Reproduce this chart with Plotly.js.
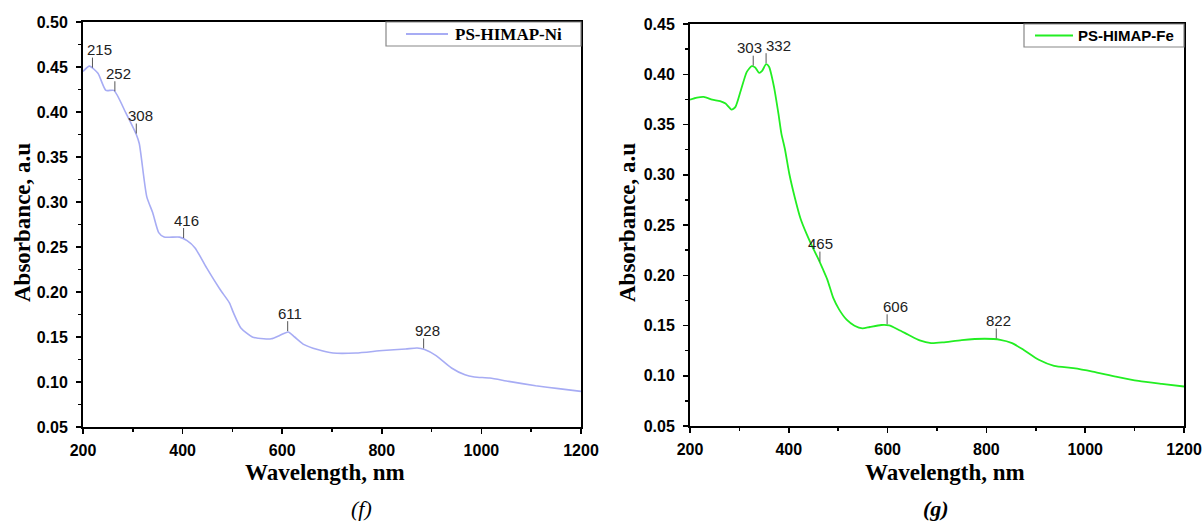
<!DOCTYPE html>
<html>
<head>
<meta charset="utf-8">
<script src="https://cdn.plot.ly/plotly-3.0.1.min.js"></script>
<style>html,body{margin:0;padding:0;background:#fff;}#chart{width:1203px;height:523px;}</style>
</head>
<body>
<div id="chart"></div>
<script>
// ---- data ----
const niWavelength = [200,213,230,246,262,286,307,313,328,340,352,363,394,409,425,448,475,494,502,517,540,563,578,594,612,625,644,671,702,748,802,848,871,886,909,940,967,986,1017,1055,1109,1155,1200];
const niAbsorbance = [0.445,0.451,0.443,0.424,0.424,0.399,0.375,0.365,0.306,0.288,0.266,0.261,0.261,0.257,0.249,0.227,0.203,0.188,0.177,0.160,0.150,0.148,0.148,0.1515,0.1556,0.150,0.1415,0.136,0.1322,0.1322,0.135,0.1367,0.1378,0.136,0.1293,0.1156,0.108,0.1056,0.1044,0.1007,0.0959,0.0926,0.0896];
const niPeakLabels = ['215','252','308','416','611','928'];
const niPeakX = [219,264,307,402,611,884];

const feWavelength = [200,214,228,245,261,272,284,292,303,315,325,332,340,346,354,360,370,379,385,392,401,412,424,436,447,459,469,478,490,502,517,533,549,564,587,603,622,642,665,688,712,750,797,828,852,875,906,937,976,1015,1062,1108,1155,1200];
const feAbsorbance = [0.3748,0.3768,0.3775,0.3748,0.3732,0.3708,0.3648,0.3675,0.3841,0.4024,0.4081,0.4068,0.4014,0.4034,0.410,0.4074,0.3875,0.3608,0.3409,0.3259,0.301,0.2777,0.256,0.2411,0.229,0.217,0.206,0.1957,0.1774,0.1658,0.1558,0.1498,0.1471,0.1485,0.1505,0.1501,0.1458,0.1408,0.1352,0.1325,0.1332,0.1355,0.1368,0.1358,0.1325,0.1259,0.1159,0.1099,0.1076,0.1042,0.0992,0.0949,0.0919,0.0893];
const fePeakLabels = ['303','332','465','606','822'];
const fePeakX = [328,354,463,599,820];

const xTickVals = [200,400,600,800,1000,1200];

// ---- style (not data) ----
const niColor = '#a7acf4';
const feColor = '#22ee22';
const niLabelShift = [7,4,4,3,2,4];
const feLabelShift = [-4,12,1,8,2];

function interp(xs, ys, x) {
  for (let i = 0; i < xs.length - 1; i++) {
    if (x >= xs[i] && x <= xs[i+1]) {
      const t = (x - xs[i]) / (xs[i+1] - xs[i]);
      return ys[i] + t * (ys[i+1] - ys[i]);
    }
  }
  return ys[ys.length-1];
}

const W = 1203, H = 523;
const L = {x0:83, x1:581, y0:22, y1:427};
const R = {x0:690, x1:1184, y0:24, y1:426};

const tickFont = {family:'Liberation Sans, Arial, sans-serif', size:16, color:'#000', weight:'bold'};

function xAxis(box, anchor) {
  return {
    domain:[box.x0/W, box.x1/W], anchor:anchor, range:[200,1200],
    tickvals:xTickVals, ticks:'outside', ticklen:5, tickwidth:1.5, tickcolor:'#000',
    minor:{ticks:'outside', ticklen:3, tickwidth:1.5, tickcolor:'#000', dtick:100, tick0:200, showgrid:false},
    showline:true, linewidth:2, linecolor:'#000', mirror:true,
    showgrid:false, zeroline:false, tickfont:tickFont, ticklabelstandoff:3, fixedrange:true
  };
}
function yAxis(box, anchor, top) {
  return {
    domain:[1-box.y1/H, 1-box.y0/H], anchor:anchor, range:[0.05, top],
    dtick:0.05, tick0:0.05, tickformat:'.2f', ticks:'outside', ticklen:5, tickwidth:1.5, tickcolor:'#000',
    minor:{ticks:'outside', ticklen:3, tickwidth:1.5, tickcolor:'#000', dtick:0.025, tick0:0.05, showgrid:false},
    showline:true, linewidth:2, linecolor:'#000', mirror:true,
    showgrid:false, zeroline:false, tickfont:tickFont, ticklabelstandoff:5, fixedrange:true
  };
}

const traces = [
  {x:niWavelength, y:niAbsorbance, xaxis:'x', yaxis:'y', type:'scatter', mode:'lines',
   line:{color:niColor, width:1.6, shape:'spline', smoothing:0.6}, name:'PS-HIMAP-Ni', showlegend:false},
  {x:feWavelength, y:feAbsorbance, xaxis:'x2', yaxis:'y2', type:'scatter', mode:'lines',
   line:{color:feColor, width:1.8, shape:'spline', smoothing:0.6}, name:'PS-HIMAP-Fe', showlegend:false}
];

const shapes = [];
const annotations = [];

function addPeaks(labels, xs, dataX, dataY, shifts, xr, yr) {
  labels.forEach((lab, i) => {
    const yv = interp(dataX, dataY, xs[i]);
    shapes.push({type:'line', xref:xr, yref:yr, ysizemode:'pixel', yanchor:yv,
      x0:xs[i], x1:xs[i], y0:1, y1:11, line:{color:'#555', width:1}});
    annotations.push({xref:xr, yref:yr, x:xs[i], y:yv, text:lab, showarrow:false,
      xshift:shifts[i], yshift:19, font:{family:'Liberation Sans, Arial, sans-serif', size:15, color:'#222'}});
  });
}
addPeaks(niPeakLabels, niPeakX, niWavelength, niAbsorbance, niLabelShift, 'x', 'y');
addPeaks(fePeakLabels, fePeakX, feWavelength, feAbsorbance, feLabelShift, 'x2', 'y2');

// legends (manual boxes)
function legend(box, xr, yr, bx0, by1, lx0, lx1, tx, name, color, font) {
  const dw = box.x1 - box.x0, dh = box.y1 - box.y0;
  const ym = 1 - ((box.y0 + by1)/2 - box.y0) / dh;
  shapes.push({type:'rect', xref:xr+' domain', yref:yr+' domain',
    x0:(bx0-box.x0)/dw, x1:1, y0:1-(by1-box.y0)/dh, y1:1, line:{color:'#888', width:1.2}, fillcolor:'rgba(0,0,0,0)'});
  shapes.push({type:'line', xref:xr+' domain', yref:yr+' domain',
    x0:(lx0-box.x0)/dw, x1:(lx1-box.x0)/dw, y0:ym, y1:ym, line:{color:color, width:1.8}});
  annotations.push({xref:xr+' domain', yref:yr+' domain', x:(tx-box.x0)/dw, y:ym, xanchor:'left', yanchor:'middle',
    text:name, showarrow:false, font:font});
}
legend(L, 'x', 'y', 386, 46, 406, 448, 453, 'PS-HIMAP-Ni', niColor,
  {family:'Liberation Serif, Times New Roman, serif', size:17, color:'#000', weight:'bold'});
legend(R, 'x2', 'y2', 1024, 47, 1035, 1073, 1076, 'PS-HIMAP-Fe', feColor,
  {family:'Liberation Sans, Arial, sans-serif', size:15, color:'#000', weight:'bold'});

// axis titles and panel letters
const titleFont = {family:'Liberation Serif, Times New Roman, serif', size:23, color:'#000', weight:'bold'};
[[22, 'Absorbance, a.u'], [627, 'Absorbance, a.u']].forEach(([px, t]) => {
  annotations.push({xref:'paper', yref:'paper', x:px/W, y:1-223/H, xanchor:'center', yanchor:'middle',
    text:t, textangle:-90, showarrow:false, font:titleFont});
});
[[325, 'Wavelength, nm'], [945, 'Wavelength, nm']].forEach(([px, t]) => {
  annotations.push({xref:'paper', yref:'paper', x:px/W, y:1-472/H, xanchor:'center', yanchor:'middle',
    text:t, showarrow:false, font:titleFont});
});
annotations.push({xref:'paper', yref:'paper', x:361/W, y:1-508/H, xanchor:'center', yanchor:'middle',
  text:'<i>(f)</i>', showarrow:false, font:{family:'Liberation Serif, Times New Roman, serif', size:22, color:'#000'}});
annotations.push({xref:'paper', yref:'paper', x:936/W, y:1-508/H, xanchor:'center', yanchor:'middle',
  text:'<b><i>(g)</i></b>', showarrow:false, font:{family:'Liberation Serif, Times New Roman, serif', size:22, color:'#000'}});

const layout = {
  width:W, height:H, margin:{l:0, r:0, t:0, b:0},
  paper_bgcolor:'#fff', plot_bgcolor:'#fff', showlegend:false,
  xaxis:xAxis(L, 'y'), yaxis:yAxis(L, 'x', 0.50),
  xaxis2:xAxis(R, 'y2'), yaxis2:yAxis(R, 'x2', 0.45),
  shapes:shapes, annotations:annotations
};

Plotly.newPlot('chart', traces, layout, {displayModeBar:false, staticPlot:true});
</script>
</body>
</html>
